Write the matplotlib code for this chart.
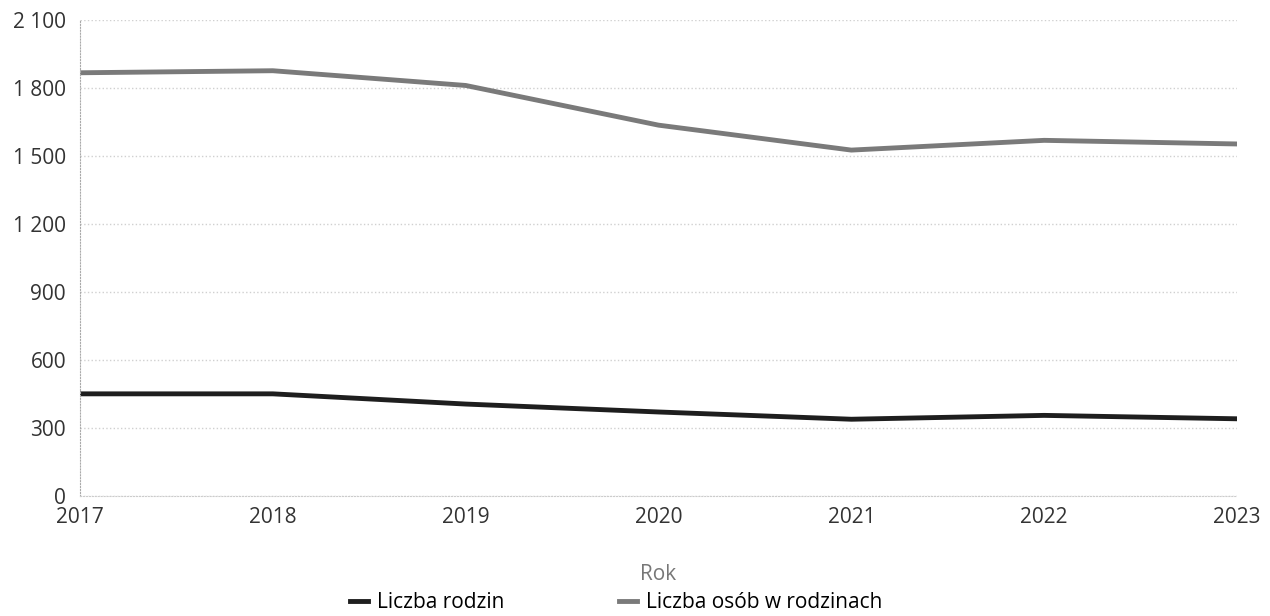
import matplotlib.pyplot as plt
from matplotlib.ticker import FuncFormatter

plt.rcParams["font.family"] = ["Open Sans", "DejaVu Sans"]

# Data
years = [2017, 2018, 2019, 2020, 2021, 2022, 2023]
liczba_rodzin = [450, 450, 405, 370, 338, 355, 340]
liczba_osob = [1866, 1875, 1810, 1635, 1525, 1568, 1552]
y_ticks = [0, 300, 600, 900, 1200, 1500, 1800, 2100]

fig = plt.figure(figsize=(12.7, 6.16), dpi=100)
ax = fig.add_axes([0.063, 0.195, 0.911, 0.773])

ax.plot(years, liczba_rodzin, color="#1e1e1e", linewidth=3.5, label="Liczba rodzin")
ax.plot(years, liczba_osob, color="#7a7a7a", linewidth=3.5, label="Liczba osób w rodzinach")

ax.set_xlim(years[0], years[-1])
ax.set_ylim(0, 2100)
ax.set_yticks(y_ticks)
ax.yaxis.set_major_formatter(FuncFormatter(lambda v, p: f"{int(v):,}".replace(",", " ")))
ax.set_xticks(years)

ax.grid(axis="y", color="#d0d0d0", linestyle=":", linewidth=1)
for s in ["top", "right"]:
    ax.spines[s].set_visible(False)
ax.spines["left"].set_linestyle(":")
ax.spines["left"].set_color("#aaaaaa")
ax.spines["bottom"].set_linestyle(":")
ax.spines["bottom"].set_color("#cccccc")
ax.tick_params(length=0, labelsize=15, colors="#333333")
ax.tick_params(axis="x", pad=8)
ax.tick_params(axis="y", pad=10)

ax.set_xlabel("Rok", fontsize=15, color="#777777", labelpad=26)

fig.legend(loc="lower center", bbox_to_anchor=(0.485, -0.026), ncol=2, frameon=False,
           fontsize=15, handlelength=0.9, columnspacing=5.5, handletextpad=0.4)

plt.savefig("out.png", dpi=100)
plt.close()
